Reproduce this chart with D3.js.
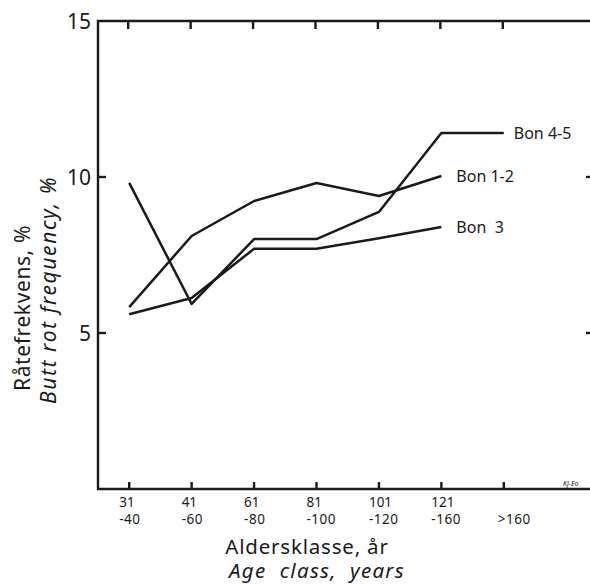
<!DOCTYPE html>
<html>
<head>
<meta charset="utf-8">
<script src="https://cdn.jsdelivr.net/npm/d3@7"></script>
<style>
  body { margin: 0; background: #fff; }
  svg { display: block; font-family: "Noto Sans", sans-serif; }
</style>
</head>
<body>
<div id="chart"></div>
<script>
// age classes and the two rows of tick labels
var categories = ["31-40", "41-60", "61-80", "81-100", "101-120", "121-160", ">160"];
var tickTop = ["31", "41", "61", "81", "101", "121", ""];
var tickBottom = ["-40", "-60", "-80", "-100", "-120", "-160", ">160"];
var yTicks = [5, 10, 15];

// butt rot frequency, %
var bon12 = [5.83, 8.11, 9.23, 9.81, 9.39, 10.03];
var bon3 = [5.6, 6.12, 7.7, 7.7, 8.04, 8.4];
var bon45 = [9.81, 5.93, 8.01, 8.01, 8.88, 11.41, 11.41];

var series = [
  { name: "Bon 4-5", values: bon45, dx: 10 },
  { name: "Bon 1-2", values: bon12, dx: 15 },
  { name: "Bon  3", values: bon3, dx: 15 }
];

var W = 590, H = 584;
var frame = { left: 98, top: 21, bottom: 489, right: 590 };
var ink = "#1a1a1a";

var svg = d3.select("#chart")
  .append("svg")
  .attr("width", W)
  .attr("height", H);

var x = d3.scalePoint()
  .domain(categories)
  .range([frame.left, 535])
  .padding(0.5);

var y = d3.scaleLinear()
  .domain([0, 15])
  .range([frame.bottom, frame.top]);

// frame: left, top and bottom lines (right side runs off the picture)
svg.append("path")
  .attr("d", "M" + frame.right + "," + frame.top + "H" + frame.left +
    "V" + frame.bottom + "H" + frame.right)
  .attr("fill", "none")
  .attr("stroke", ink)
  .attr("stroke-width", 2.4);

// x ticks, inward on top and bottom
svg.selectAll(".tickb")
  .data(categories)
  .enter()
  .append("line")
  .attr("x1", function (d) { return x(d); })
  .attr("x2", function (d) { return x(d); })
  .attr("y1", frame.bottom)
  .attr("y2", frame.bottom - 7)
  .attr("stroke", ink)
  .attr("stroke-width", 2.4);

svg.selectAll(".tickt")
  .data(categories)
  .enter()
  .append("line")
  .attr("x1", function (d) { return x(d) - 1; })
  .attr("x2", function (d) { return x(d) - 1; })
  .attr("y1", frame.top)
  .attr("y2", frame.top + 8)
  .attr("stroke", ink)
  .attr("stroke-width", 2.4);

// y ticks, inward
svg.selectAll(".ticky")
  .data(yTicks.slice(0, 2))
  .enter()
  .append("line")
  .attr("x1", frame.left)
  .attr("x2", frame.left + 8)
  .attr("y1", function (d) { return y(d); })
  .attr("y2", function (d) { return y(d); })
  .attr("stroke", ink)
  .attr("stroke-width", 2.4);

svg.selectAll(".tickr")
  .data(yTicks.slice(0, 2))
  .enter()
  .append("line")
  .attr("x1", frame.right - 4)
  .attr("x2", frame.right)
  .attr("y1", function (d) { return y(d); })
  .attr("y2", function (d) { return y(d); })
  .attr("stroke", ink)
  .attr("stroke-width", 2.4);

svg.selectAll(".ylab")
  .data(yTicks)
  .enter()
  .append("text")
  .attr("x", frame.left - 7)
  .attr("y", function (d) { return y(d); })
  .attr("dy", "0.36em")
  .attr("text-anchor", "end")
  .attr("font-size", 21)
  .attr("fill", ink)
  .text(function (d) { return d; });

// x tick labels, two rows
svg.selectAll(".xlab1")
  .data(categories)
  .enter()
  .append("text")
  .attr("x", function (d) { return x(d) - 10; })
  .attr("y", 507)
  .attr("font-size", 13.5)
  .attr("fill", ink)
  .text(function (d, i) { return tickTop[i]; });

svg.selectAll(".xlab2")
  .data(categories)
  .enter()
  .append("text")
  .attr("x", function (d, i) { return x(d) - (i == 6 ? 6 : 10); })
  .attr("y", 524)
  .attr("font-size", 13.5)
  .attr("letter-spacing", 0.5)
  .attr("fill", ink)
  .text(function (d, i) { return tickBottom[i]; });

// axis titles
svg.append("text")
  .attr("x", 307)
  .attr("y", 554)
  .attr("text-anchor", "middle")
  .attr("font-size", 20.5)
  .attr("letter-spacing", 0.8)
  .attr("fill", ink)
  .text("Aldersklasse, år");

svg.append("text")
  .attr("x", 317)
  .attr("y", 578)
  .attr("text-anchor", "middle")
  .attr("font-size", 20.5)
  .attr("font-style", "italic")
  .attr("letter-spacing", 1.3)
  .attr("fill", ink)
  .attr("xml:space", "preserve")
  .text("Age  class,  years");

svg.append("text")
  .attr("transform", "translate(30,308) rotate(-90)")
  .attr("text-anchor", "middle")
  .attr("font-size", 21)
  .attr("letter-spacing", 0.6)
  .attr("fill", ink)
  .text("Råtefrekvens, %");

svg.append("text")
  .attr("transform", "translate(56,290) rotate(-90)")
  .attr("text-anchor", "middle")
  .attr("font-size", 21)
  .attr("font-style", "italic")
  .attr("letter-spacing", 1.6)
  .attr("fill", ink)
  .text("Butt rot frequency, %");

// lines
var line = d3.line()
  .x(function (d, i) { return x(categories[i]); })
  .y(function (d) { return y(d); });

svg.selectAll(".series")
  .data(series)
  .enter()
  .append("path")
  .attr("d", function (s) { return line(s.values); })
  .attr("fill", "none")
  .attr("stroke", ink)
  .attr("stroke-width", 2.5)
  .attr("stroke-linejoin", "round");

svg.selectAll(".slab")
  .data(series)
  .enter()
  .append("text")
  .attr("x", function (s) { return x(categories[s.values.length - 1]) + s.dx; })
  .attr("y", function (s) { return y(s.values[s.values.length - 1]); })
  .attr("dy", "0.36em")
  .attr("font-size", 16)
  .attr("fill", ink)
  .attr("xml:space", "preserve")
  .text(function (s) { return s.name; });

// drafter's mark
svg.append("text")
  .attr("x", 563)
  .attr("y", 486)
  .attr("font-size", 7)
  .attr("font-style", "italic")
  .attr("fill", ink)
  .text("Kj-Eo");
</script>
</body>
</html>
